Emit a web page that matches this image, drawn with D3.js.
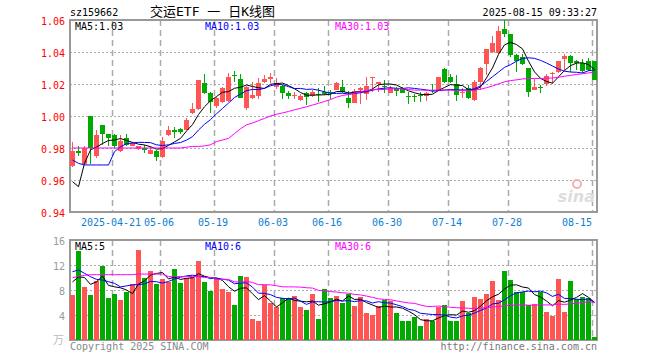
<!DOCTYPE html>
<html>
<head>
<meta charset="utf-8">
<script src="https://cdn.jsdelivr.net/npm/d3@7"></script>
<style>
body { margin: 0; background: #fff; }
svg { display: block; font-family: "DejaVu Sans Mono", "Liberation Mono", "Noto Sans CJK SC", monospace; }
</style>
</head>
<body>
<div id="chart"></div>
<script>
// trading days shown (2025)
const days = [
    "04-10","04-11","04-14","04-15","04-16","04-17","04-18","04-21","04-22","04-23","04-24","04-25","04-28","04-29","04-30",
    "05-06","05-07","05-08","05-09","05-12","05-13","05-14","05-15","05-16","05-19","05-20","05-21","05-22","05-23","05-26","05-27","05-28","05-29","05-30",
    "06-03","06-04","06-05","06-06","06-09","06-10","06-11","06-12","06-13","06-16","06-17","06-18","06-19","06-20","06-23","06-24","06-25","06-26","06-27","06-30",
    "07-01","07-02","07-03","07-04","07-07","07-08","07-09","07-10","07-11","07-14","07-15","07-16","07-17","07-18","07-21","07-22","07-23","07-24","07-25","07-28","07-29","07-30","07-31",
    "08-01","08-04","08-05","08-06","08-07","08-08","08-11","08-12","08-13","08-14","08-15"
];

const open = [
    0.969, 0.978, 0.970, 1.000, 0.975, 0.9945, 0.989, 0.988, 0.978, 0.986,
    0.981, 0.9795, 0.980, 0.976, 0.978, 0.9745, 0.988, 0.991, 0.992, 0.9913,
    1.002, 1.0045, 1.0205, 1.0145, 1.006, 1.009, 1.0095, 1.0255, 1.023, 1.0048,
    1.011, 1.0127, 1.021, 1.023, 1.0183, 1.019, 1.0146, 1.0125, 1.010, 1.0142,
    1.0125, 1.0135, 1.015, 1.015, 1.0163, 1.0183, 1.0114, 1.0083, 1.0163, 1.0135,
    1.0238, 1.0198, 1.0185, 1.0146, 1.0177, 1.0168, 1.0127, 1.0125, 1.013, 1.0125,
    1.0165, 1.0158, 1.0294, 1.0245, 1.020, 1.0145, 1.0177, 1.010, 1.0214, 1.0325,
    1.0402, 1.0396, 1.0544, 1.0513, 1.0381, 1.037, 1.0298, 1.0163, 1.018, 1.020,
    1.0268, 1.0277, 1.0354, 1.0377, 1.0346, 1.0333, 1.0345, 1.0346
];
const high = [
    0.984, 0.981, 0.981, 1.000, 0.991, 0.9945, 0.989, 0.9885, 0.988, 0.9888,
    0.984, 0.9815, 0.982, 0.981, 0.979, 0.987, 0.994, 0.993, 0.9925, 0.999,
    1.008, 1.0225, 1.0265, 1.015, 1.012, 1.018, 1.0267, 1.028, 1.026, 1.019,
    1.021, 1.024, 1.0256, 1.0267, 1.024, 1.0195, 1.0155, 1.015, 1.014, 1.015,
    1.016, 1.0177, 1.019, 1.0165, 1.021, 1.0225, 1.0155, 1.017, 1.018, 1.0245,
    1.0245, 1.0215, 1.0225, 1.019, 1.018, 1.018, 1.015, 1.014, 1.015, 1.015,
    1.020, 1.0245, 1.030, 1.026, 1.0255, 1.0177, 1.0195, 1.0225, 1.0305, 1.042,
    1.050, 1.0563, 1.060, 1.0513, 1.039, 1.0385, 1.030, 1.023, 1.0195, 1.026,
    1.0275, 1.0346, 1.0385, 1.038, 1.035, 1.0355, 1.036, 1.0346
];
const low = [
    0.968, 0.975, 0.970, 0.970, 0.974, 0.982, 0.981, 0.980, 0.9775, 0.981,
    0.981, 0.979, 0.977, 0.976, 0.972, 0.974, 0.9875, 0.986, 0.989, 0.991,
    1.001, 1.004, 1.014, 1.002, 1.005, 1.008, 1.009, 1.0215, 1.011, 1.004,
    1.0105, 1.0105, 1.0205, 1.0205, 1.017, 1.0106, 1.0104, 1.0106, 1.0095, 1.007,
    1.012, 1.009, 1.013, 1.0105, 1.016, 1.0145, 1.0048, 1.008, 1.0075, 1.010,
    1.015, 1.015, 1.0145, 1.0145, 1.0125, 1.0145, 1.0075, 1.0085, 1.009, 1.0096,
    1.0142, 1.0155, 1.0205, 1.0205, 1.0096, 1.011, 1.0105, 1.0095, 1.0163, 1.0256,
    1.0395, 1.039, 1.0496, 1.037, 1.0277, 1.032, 1.012, 1.016, 1.0142, 1.019,
    1.020, 1.027, 1.0288, 1.0277, 1.029, 1.027, 1.028, 1.0225
];
const close = [
    0.978, 0.977, 0.980, 0.980, 0.988, 0.989, 0.9865, 0.9815, 0.9845, 0.982,
    0.983, 0.981, 0.979, 0.979, 0.9745, 0.9845, 0.991, 0.990, 0.990, 0.9975,
    1.0045, 1.0225, 1.0145, 1.0085, 1.011, 1.0177, 1.0245, 1.025, 1.0115, 1.0183,
    1.013, 1.0204, 1.023, 1.0245, 1.0204, 1.0146, 1.0127, 1.013, 1.0127, 1.012,
    1.0148, 1.0132, 1.0136, 1.0145, 1.0204, 1.0152, 1.0083, 1.0156, 1.0177, 1.019,
    1.0242, 1.021, 1.018, 1.0177, 1.0158, 1.0146, 1.0125, 1.012, 1.0128, 1.0146,
    1.016, 1.0245, 1.0214, 1.0215, 1.0131, 1.0148, 1.011, 1.0214, 1.0302, 1.0417,
    1.0458, 1.0533, 1.0513, 1.0381, 1.0346, 1.0325, 1.0148, 1.0179, 1.0178, 1.025,
    1.027, 1.0346, 1.0377, 1.033, 1.033, 1.028, 1.029, 1.0225
];
// volume, 万手
const vol = [
    7.2, 14.24, 8.48, 7.2, 9.44, 11.84, 6.72, 7.36, 6.4, 7.68,
    8.96, 14.4, 9.87, 11.04, 8.96, 9.71, 9.28, 11.36, 9.12, 9.87,
    10.13, 12.64, 9.28, 7.84, 9.71, 8.16, 7.68, 5.6, 10.24, 10.08,
    3.36, 3.04, 8.8, 5.92, 5.28, 6.72, 6.72, 7.04, 5.28, 4.8,
    7.36, 3.36, 8.16, 6.72, 7.04, 5.92, 7.36, 5.44, 6.88, 4.32,
    4.0, 5.44, 6.4, 6.24, 4.32, 3.04, 3.04, 3.68, 2.24, 3.36,
    3.04, 5.28, 5.6, 3.0, 3.04, 6.24, 4.32, 6.88, 6.56, 7.36,
    9.44, 6.4, 11.04, 9.6, 7.68, 7.68, 5.6, 5.76, 7.68, 4.48,
    3.84, 9.76, 4.48, 9.44, 6.56, 6.88, 6.72, 0.5
];

// moving-average values before a full window exists
const ma5Head = [0.959, 0.9558, 0.9704, 0.9788];
const ma10Head = [0.9725, 0.9704, 0.9694, 0.9694, 0.9694, 0.9694, 0.9694, 0.9777, 0.9808];
const ma30Head = [
    0.980, 0.980, 0.980, 0.980, 0.980, 0.980, 0.980, 0.980, 0.980, 0.980,
    0.980, 0.980, 0.980, 0.980, 0.980, 0.980, 0.980, 0.980, 0.980, 0.9805,
    0.981, 0.981, 0.9813, 0.982, 0.984, 0.985, 0.986, 0.989, 0.992
];
const vma5Head = [9.3, 10.1, 10.0, 8.9];
const vma10Head = [10.93, 11.2, 10.67, 10.13, 9.7, 9.6, 9.33, 9.07, 8.5];
const vma30Head = [
    9.95, 10.2, 10.35, 10.45, 10.45, 10.45, 10.45, 10.45, 10.45, 10.45,
    10.45, 10.55, 10.55, 10.55, 10.55, 10.55, 10.15, 10.15, 10.15, 10.15,
    10.15, 10.15, 10.0, 10.0, 9.7, 9.7, 9.7, 9.3, 9.3
];

const priceTicks = [0.94, 0.96, 0.98, 1.00, 1.02, 1.04, 1.06];
const volTicks = [4, 8, 12, 16];
const dateTicks = ["04-21", "05-06", "05-19", "06-03", "06-16", "06-30", "07-14", "07-28", "08-15"];
const dateLabels = ["2025-04-21", "05-06", "05-19", "06-03", "06-16", "06-30", "07-14", "07-28", "08-15"];
const maLabels = ["MA5:1.03", "MA10:1.03", "MA30:1.03"];
const vmaLabels = ["MA5:5", "MA10:6", "MA30:6"];

const UP = "#ff5555", DOWN = "#00aa00";
const MA_COLORS = ["#000000", "#0000ff", "#ff00ff"];

const width = 660, height = 360;
const left = 70, right = 597;
const pane = { top: 20, bottom: 212 };
const vpane = { top: 240, bottom: 340 };
const n = days.length;

const x = d3.scaleLinear().domain([0, n]).range([left, left + 6 * n]);
const y = d3.scaleLinear().domain([0.94, 1.06]).range([pane.bottom, pane.top]);
const yv = d3.scaleLinear().domain([0, 16]).range([vpane.bottom, vpane.top]);

const movAvg = (vals, win, head) => vals.map((v, i) =>
    i < head.length ? head[i] : d3.mean(vals.slice(i - win + 1, i + 1)));

const priceMA = [movAvg(close, 5, ma5Head), movAvg(close, 10, ma10Head), movAvg(close, 30, ma30Head)];
const volMA = [movAvg(vol, 5, vma5Head), movAvg(vol, 10, vma10Head), movAvg(vol, 30, vma30Head)];

const svg = d3.select('#chart').append('svg')
    .attr('width', width)
    .attr('height', height);

const isUp = i => close[i] >= open[i];

// 网格
const drawGrid = (ticks, scale, p) => {
    svg.append('g').selectAll('line')
        .data(ticks.filter(t => scale(t) > p.top + 1 && scale(t) < p.bottom - 1))
        .join('line')
        .attr('x1', left).attr('x2', right)
        .attr('y1', d => Math.round(scale(d)) + 0.5)
        .attr('y2', d => Math.round(scale(d)) + 0.5)
        .attr('stroke', '#aaa')
        .attr('stroke-dasharray', '2,2');

    svg.append('g').selectAll('line')
        .data(dateTicks)
        .join('line')
        .attr('x1', d => x(days.indexOf(d)) + 0.5)
        .attr('x2', d => x(days.indexOf(d)) + 0.5)
        .attr('y1', p.top).attr('y2', p.bottom)
        .attr('stroke', '#aaa')
        .attr('stroke-width', 1.5)
        .attr('stroke-dasharray', '6,4');
};
drawGrid(priceTicks, y, pane);
drawGrid(volTicks, yv, vpane);

// 边框
[pane, vpane].forEach(p => {
    svg.append('rect')
        .attr('x', left).attr('y', p.top)
        .attr('width', right - left).attr('height', p.bottom - p.top)
        .attr('fill', 'none')
        .attr('stroke', '#999')
        .attr('stroke-width', 2);
});

// K线
const candles = svg.append('g').attr('shape-rendering', 'crispEdges');
candles.selectAll('.wick')
    .data(d3.range(n))
    .join('rect')
    .attr('class', 'wick')
    .attr('x', i => x(i) + 2)
    .attr('width', 1)
    .attr('y', i => y(high[i]))
    .attr('height', i => Math.max(1, y(low[i]) - y(high[i])))
    .attr('fill', i => isUp(i) ? UP : DOWN);
candles.selectAll('.body')
    .data(d3.range(n))
    .join('rect')
    .attr('class', 'body')
    .attr('x', i => x(i))
    .attr('width', 5)
    .attr('y', i => y(Math.max(open[i], close[i])))
    .attr('height', i => Math.max(1, Math.abs(y(open[i]) - y(close[i]))))
    .attr('fill', i => isUp(i) ? UP : DOWN);

// 成交量
svg.append('g').attr('shape-rendering', 'crispEdges')
    .selectAll('rect')
    .data(d3.range(n))
    .join('rect')
    .attr('x', i => x(i))
    .attr('width', 5)
    .attr('y', i => yv(vol[i]))
    .attr('height', i => yv(0) - yv(vol[i]))
    .attr('fill', i => isUp(i) ? UP : DOWN);

// 均线
const drawMA = (series, scale) => {
    series.forEach((s, k) => {
        const line = d3.line()
            .x((d, i) => x(i) + 2.5)
            .y(d => scale(d));
        svg.append('path')
            .datum(s)
            .attr('fill', 'none')
            .attr('stroke', MA_COLORS[k])
            .attr('stroke-width', 1)
            .attr('d', line);
    });
};
drawMA(priceMA, y);
drawMA(volMA, yv);

// 纵轴
svg.append('g')
    .attr('transform', `translate(${left - 2},0)`)
    .call(d3.axisLeft(y).tickValues(priceTicks).tickSize(0).tickFormat(d3.format('.2f')))
    .call(g => g.select('.domain').remove())
    .call(g => g.selectAll('text')
        .attr('fill', '#f00')
        .attr('font-size', 10)
        .attr('font-family', '"DejaVu Sans Mono", monospace')
        .attr('dy', '0.4em'));

svg.append('g')
    .attr('transform', `translate(${left - 2},0)`)
    .call(d3.axisLeft(yv).tickValues(volTicks).tickSize(0))
    .call(g => g.select('.domain').remove())
    .call(g => g.selectAll('text')
        .attr('fill', '#999')
        .attr('font-size', 10)
        .attr('font-family', '"DejaVu Sans Mono", monospace')
        .attr('dy', '0.4em'));

svg.append('text')
    .attr('x', left - 6).attr('y', vpane.bottom + 4)
    .attr('text-anchor', 'end')
    .attr('font-size', 11)
    .attr('fill', '#bbb')
    .attr('font-family', '"Noto Sans CJK SC", sans-serif')
    .text('万');

// 日期
svg.append('g').selectAll('text')
    .data(dateTicks)
    .join('text')
    .attr('x', (d, k) => k === dateTicks.length - 1 ? x(days.indexOf(d)) : x(days.indexOf(d)) - 1)
    .attr('y', pane.bottom + 14)
    .attr('text-anchor', (d, k) => k === dateTicks.length - 1 ? 'end' : 'middle')
    .attr('font-size', 10)
    .attr('fill', '#1080d0')
    .text((d, k) => dateLabels[k]);

// 标题
const label = (txt, xx, yy, color, anchor = 'start', size = 10) => svg.append('text')
    .attr('x', xx).attr('y', yy)
    .attr('text-anchor', anchor)
    .attr('font-size', size)
    .attr('fill', color)
    .text(txt);

label('sz159662', left, 16, '#000');
label('交运ETF 一 日K线图', 150, 16, '#000', 'start', 13);
label('2025-08-15 09:33:27', right, 16, '#000', 'end');

maLabels.forEach((t, k) => label(t, left + 5 + 130 * k, pane.top + 10, MA_COLORS[k]));
vmaLabels.forEach((t, k) => label(t, left + 5 + 130 * k, vpane.top + 10, MA_COLORS[k]));

label('Copyright 2025 SINA.COM', left, 350, '#888');
label('http://finance.sina.com.cn', right, 350, '#777', 'end');

// 水印
svg.append('text')
    .attr('x', right - 2).attr('y', pane.bottom - 10)
    .attr('text-anchor', 'end')
    .attr('font-family', 'DejaVu Sans, sans-serif')
    .attr('font-style', 'italic')
    .attr('font-weight', 'bold')
    .attr('font-size', 16)
    .attr('fill', '#ddd')
    .text('sina');
svg.append('circle')
    .attr('cx', right - 20).attr('cy', pane.bottom - 28)
    .attr('r', 4)
    .attr('fill', 'none')
    .attr('stroke', '#f4b0b0')
    .attr('stroke-width', 2);
</script>
</body>
</html>
